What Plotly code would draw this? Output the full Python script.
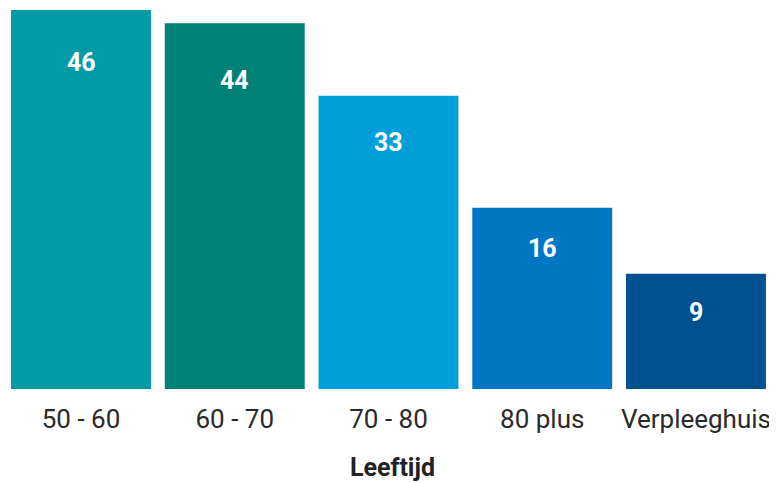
import plotly.graph_objects as go

categories = ["50 - 60", "60 - 70", "70 - 80", "80 plus", "Verpleeghuis"]
# bar heights (same scale as the first bar's label)
bar_heights = [46, 44.4, 35.6, 22.0, 14.0]
# value labels printed in the bars
value_labels = [46, 44, 33, 16, 9]

colors = ["#009BA5", "#008176", "#009FD9", "#0077C5", "#00518F"]
label_offsets = [-52, -57, -47, -41, -39]  # px below the bar top (style)

FONT = "Roboto"

fig = go.Figure()
fig.add_trace(go.Bar(
    x=categories, y=bar_heights,
    marker=dict(color=colors, line=dict(width=0)),
    hoverinfo="skip",
))

for cat, h, lab, off in zip(categories, bar_heights, value_labels, label_offsets):
    fig.add_annotation(
        x=cat, y=h, text=f"<b>{lab}</b>", showarrow=False,
        yshift=off, font=dict(family=FONT, size=25, color="white"),
    )

fig.update_layout(
    width=769, height=475,
    margin=dict(l=0, r=0, t=0, b=94, autoexpand=False),
    plot_bgcolor="white", paper_bgcolor="white",
    bargap=0.09,
    showlegend=False,
    font=dict(family=FONT, color="#222222"),
    xaxis=dict(
        showgrid=False, showline=False, zeroline=False, ticks="",
        automargin=False,
        range=[-0.4748, 4.527],
        ticklabelstandoff=12,
        tickfont=dict(family=FONT, size=26, color="#2a2a2a"),
        title=dict(text="<b>Leeftijd</b>", font=dict(family=FONT, size=25, color="#222222"), standoff=25),
    ),
    yaxis=dict(
        visible=False, range=[0, 46 * 381 / 379], fixedrange=True,
    ),
)

fig.write_html("out.html")
